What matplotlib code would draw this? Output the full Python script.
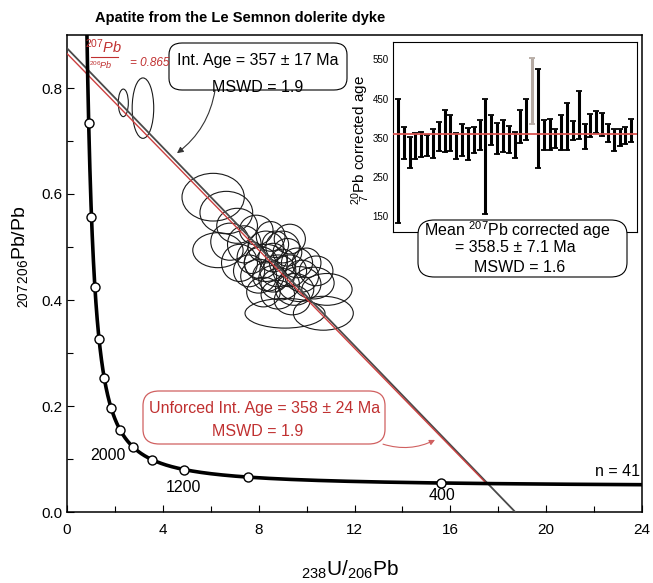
import numpy as np
import matplotlib
matplotlib.use("Agg")
import matplotlib.pyplot as plt
from matplotlib.patches import Ellipse, FancyBboxPatch

plt.rcParams["font.family"] = ["Liberation Sans", "DejaVu Sans"]
plt.rcParams["mathtext.fontset"] = "custom"
plt.rcParams["mathtext.rm"] = "Liberation Sans"
plt.rcParams["mathtext.it"] = "Liberation Sans:italic"
plt.rcParams["mathtext.bf"] = "Liberation Sans:bold"

# decay constants (per year) and 238U/235U
L238 = 1.55125e-10
L235 = 9.8485e-10
U_RATIO = 137.88

# concordia age markers (Ma) and the labelled ones
marker_ages = [400, 800, 1200, 1600, 2000, 2400, 2800, 3200, 3600, 4000, 4400, 4800]
label_ages = ["2000", "1200", "400"]

# discordia: upper 207/206 intercept and lower intercept age (Ma)
forced_y0, forced_age = 0.875, 357
unforced_y0, unforced_age = 0.865, 358

# error ellipses: centre (238U/206Pb, 207Pb/206Pb) and semi-axes
ell_x = [2.35, 3.17, 6.10, 6.65, 6.30, 7.10, 7.90, 8.30, 8.10, 8.60, 8.80, 8.40, 9.00, 9.30,
         8.90, 9.60, 7.70, 8.00, 9.20, 8.70, 9.80, 10.30, 10.85, 9.10, 10.70, 9.50, 7.40,
         8.20, 9.40, 7.60, 8.50, 10.00, 9.00, 8.30, 9.70, 7.20, 8.80, 10.40, 6.80, 8.60, 9.30]
ell_y = [0.772, 0.762, 0.594, 0.565, 0.494, 0.540, 0.532, 0.500, 0.470, 0.480, 0.455, 0.445,
         0.470, 0.455, 0.430, 0.470, 0.480, 0.445, 0.490, 0.505, 0.445, 0.432, 0.420, 0.375,
         0.375, 0.420, 0.505, 0.415, 0.400, 0.455, 0.520, 0.470, 0.500, 0.470, 0.430, 0.470,
         0.410, 0.455, 0.510, 0.440, 0.515]
ell_rx = [0.21, 0.45, 1.30, 1.10, 1.05, 0.85, 0.70, 0.75, 0.70, 0.60, 0.75, 0.65, 0.55, 0.70,
          0.80, 0.65, 0.60, 0.75, 0.60, 0.55, 0.70, 0.85, 1.05, 1.67, 1.25, 0.80, 0.70, 0.70,
          0.75, 0.65, 0.60, 0.60, 0.70, 0.90, 0.90, 0.75, 0.70, 0.70, 0.80, 0.60, 0.65]
ell_ry = [0.026, 0.057, 0.045, 0.040, 0.033, 0.033, 0.028, 0.030, 0.030, 0.027, 0.030, 0.028,
          0.026, 0.030, 0.030, 0.028, 0.030, 0.032, 0.026, 0.025, 0.030, 0.030, 0.030, 0.028,
          0.032, 0.030, 0.035, 0.028, 0.028, 0.030, 0.028, 0.028, 0.030, 0.035, 0.033, 0.035,
          0.027, 0.028, 0.035, 0.025, 0.028]

# inset: 207Pb corrected ages, error bar limits (Ma)
age_hi = [448, 378, 351, 363, 364, 356, 373, 389, 421, 408, 363, 385, 376, 378, 395, 448, 407,
          388, 395, 381, 365, 421, 448, 554, 524, 395, 397, 373, 408, 438, 393, 469, 386, 410,
          419, 412, 384, 372, 372, 378, 399]
age_lo = [134, 297, 274, 297, 302, 303, 299, 317, 315, 317, 296, 303, 294, 310, 320, 156, 331,
          308, 313, 311, 299, 336, 344, 385, 272, 319, 319, 323, 319, 319, 344, 348, 321, 353,
          361, 355, 338, 317, 328, 333, 340]
rejected = [24]  # grey bar (1-based)
mean_age = 358.5


def tw(t_ma):
    t = np.asarray(t_ma, dtype=float) * 1e6
    e8 = np.exp(L238 * t) - 1
    e5 = np.exp(L235 * t) - 1
    return 1 / e8, e5 / e8 / U_RATIO


W, H = 653, 583
fig = plt.figure(figsize=(W / 100, H / 100), dpi=100)


def fpos(px, py):
    return px / W, 1 - py / H


ax = fig.add_axes([67 / W, 1 - 512 / H, 575 / W, 477 / H])
ax.set_xlim(0, 24)
ax.set_ylim(0, 0.9)

# concordia
t_curve = np.linspace(250, 5300, 600)
cx, cy = tw(t_curve)
ax.plot(cx, cy, color="black", lw=2.6, zorder=4, solid_capstyle="butt")
mx, my = tw(marker_ages)
ax.plot(mx, my, "o", ms=6.5, mfc="white", mec="black", mew=1.0, zorder=5)

# discordia lines
fx, fy = tw(forced_age)
slope_f = (fy - forced_y0) / fx
ax.plot([0, -forced_y0 / slope_f], [forced_y0, 0], color="#4a4a4a", lw=1.3, zorder=3)
ux, uy = tw(unforced_age)
ax.plot([0, ux], [unforced_y0, uy], color="#cc4040", lw=1.0, zorder=3)

# ellipses
for x, y, rx, ry in zip(ell_x, ell_y, ell_rx, ell_ry):
    ax.add_patch(Ellipse((x, y), 2 * rx, 2 * ry, fill=False, ec="#1a1a1a", lw=0.8, zorder=2))

# axes styling
ax.set_xticks(np.arange(0, 25, 4))
ax.set_xticks(np.arange(0, 25, 2), minor=True)
ax.set_yticks(np.arange(0, 0.81, 0.2))
ax.set_yticks(np.arange(0, 0.9, 0.1), minor=True)
ax.set_yticklabels(["0.0", "0.2", "0.4", "0.6", "0.8"])
ax.tick_params(which="both", direction="in", labelsize=11, width=0.8)
ax.tick_params(which="major", length=5)
ax.tick_params(which="minor", length=4)
ax.tick_params(axis="x", pad=8)
for s in ax.spines.values():
    s.set_linewidth(1.1)

# age labels on concordia
ax.text(1.71, 0.1075, label_ages[0], fontsize=11.5, ha="center", va="center")
ax.text(4.84, 0.047, label_ages[1], fontsize=11.5, ha="center", va="center")
ax.text(15.65, 0.032, label_ages[2], fontsize=11.5, ha="center", va="center")
ax.text(23.9, 0.0755, "n = 41", fontsize=11.5, ha="right", va="center")

# red 207/206 intercept label
red = "#c03030"
fig.text(*fpos(104, 56), "$^{207}$$\\it{Pb}$", color=red, fontsize=10.5, ha="center", va="bottom")
fig.add_artist(plt.Line2D([91 / W, 118 / W], [1 - 57 / H, 1 - 57 / H], color=red, lw=0.8))
fig.text(*fpos(101, 59), "$^{206}$$\\it{Pb}$", color=red, fontsize=6.5, ha="center", va="top")
fig.text(*fpos(150, 63), "= 0.865", color=red, fontsize=8.5, style="italic", ha="center", va="center")

# Int. Age box
fig.add_artist(FancyBboxPatch(fpos(169, 90), 178 / W, 47 / H,
                              boxstyle="round,pad=0,rounding_size=0.02",
                              transform=fig.transFigure, fc="white", ec="black", lw=0.8, zorder=3))
fig.text(*fpos(258, 61), "Int. Age = 357 ± 17 Ma", fontsize=11.5, ha="center", va="center", zorder=4)
fig.text(*fpos(258, 88), "MSWD = 1.9", fontsize=11.5, ha="center", va="center", zorder=4)
ax.annotate("", xy=(4.59, 0.677), xytext=(6.18, 0.796),
            arrowprops=dict(arrowstyle="-|>", color="#333333", lw=0.8, mutation_scale=9,
                            connectionstyle="arc3,rad=-0.2", shrinkA=0, shrinkB=0))

# Unforced box
fig.add_artist(FancyBboxPatch(fpos(143, 444), 242 / W, 53 / H,
                              boxstyle="round,pad=0,rounding_size=0.025",
                              transform=fig.transFigure, fc="white", ec="#d06060", lw=0.9, zorder=3))
fig.text(*fpos(265, 409), "Unforced Int. Age = 358 ± 24 Ma", color=red, fontsize=11.5,
         ha="center", va="center", zorder=4)
fig.text(*fpos(258, 432), "MSWD = 1.9", color=red, fontsize=11.5, ha="center", va="center", zorder=4)
ax.annotate("", xy=(15.36, 0.136), xytext=(13.19, 0.128),
            arrowprops=dict(arrowstyle="-|>", color="#d06060", lw=0.8, mutation_scale=8,
                            connectionstyle="arc3,rad=0.2", shrinkA=0, shrinkB=0))

# axis labels and title
fig.text(*fpos(20, 257), "$_{207\\,206}$Pb/Pb", fontsize=14, rotation=90, ha="center", va="center")
fig.text(*fpos(350, 570), "$_{238}$U/$_{206}$Pb", fontsize=15, ha="center", va="center")
fig.text(*fpos(95, 18), "Apatite from the Le Semnon dolerite dyke", fontsize=10.5,
         fontweight="bold", ha="left", va="center")

# inset: 207Pb corrected ages
axi = fig.add_axes([393 / W, 1 - 232 / H, 244 / W, 190 / H])
axi.set_facecolor("white")
idx = np.arange(1, len(age_hi) + 1)
hi = np.array(age_hi)
lo = np.array(age_lo)
keep = np.array([i not in rejected for i in idx])
axi.errorbar(idx[keep], (hi[keep] + lo[keep]) / 2, yerr=(hi[keep] - lo[keep]) / 2, fmt="none",
             ecolor="black", elinewidth=2.2, capsize=2.2, capthick=1.3, zorder=3)
axi.errorbar(idx[~keep], (hi[~keep] + lo[~keep]) / 2, yerr=(hi[~keep] - lo[~keep]) / 2, fmt="none",
             ecolor="#b5aaa3", elinewidth=2.2, capsize=2.2, capthick=1.3, zorder=3)
axi.axhline(mean_age, color="#d9534f", lw=1.3, zorder=4)
axi.set_xlim(0.15, 42)
axi.set_ylim(110, 594)
axi.set_xticks([])
axi.set_yticks([150, 250, 350, 450, 550])
axi.tick_params(axis="y", length=0, labelsize=7, pad=3)
for s in axi.spines.values():
    s.set_linewidth(0.8)
fig.text(*fpos(361, 140), "$^{20}_{\\ 7}$Pb corrected age", fontsize=11, rotation=90,
         ha="center", va="center")

fig.add_artist(FancyBboxPatch(fpos(418, 277), 209 / W, 57 / H,
                              boxstyle="round,pad=0,rounding_size=0.025",
                              transform=fig.transFigure, fc="white", ec="black", lw=0.8, zorder=5))
fig.text(*fpos(517, 230), "Mean $^{207}$Pb corrected age", fontsize=11.5, ha="center", va="center", zorder=6)
fig.text(*fpos(515, 248), "= 358.5 ± 7.1 Ma", fontsize=11.5, ha="center", va="center", zorder=6)
fig.text(*fpos(520, 267), "MSWD = 1.6", fontsize=11.5, ha="center", va="center", zorder=6)

fig.savefig("out.png", dpi=100)
